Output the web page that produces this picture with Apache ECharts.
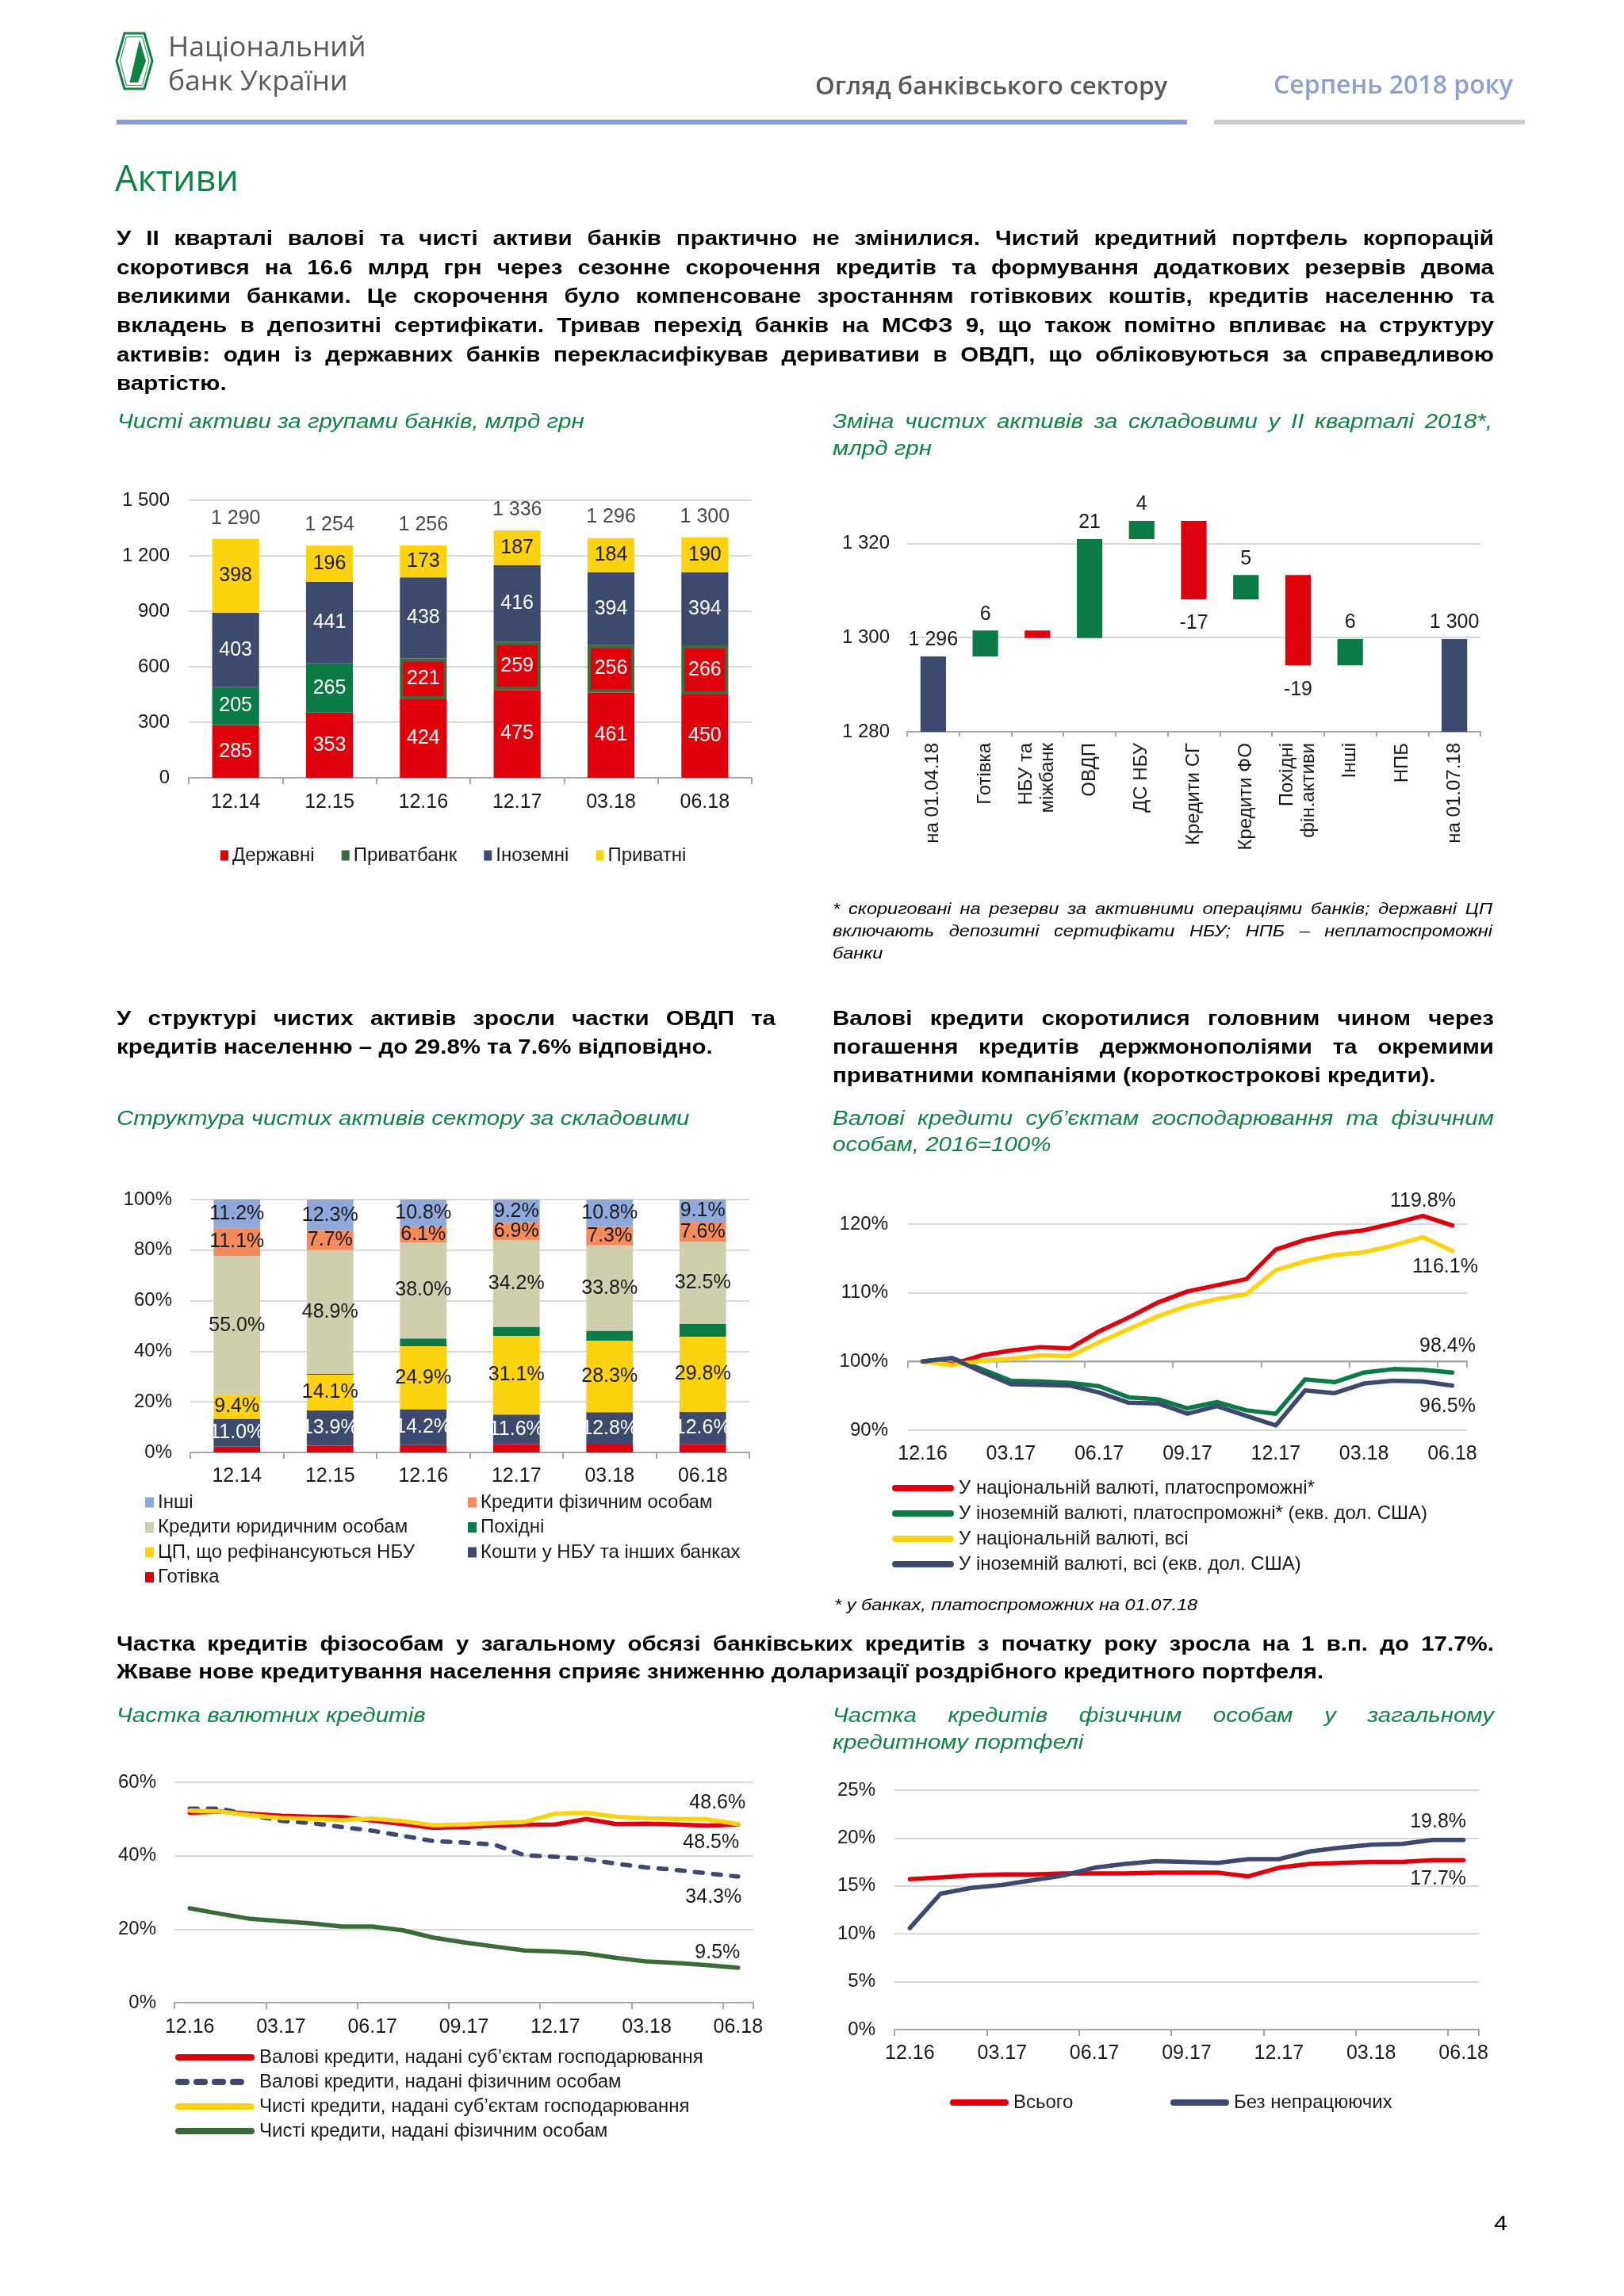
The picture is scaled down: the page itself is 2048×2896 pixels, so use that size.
<!DOCTYPE html>
<html><head><meta charset="utf-8">
<script src="https://cdn.jsdelivr.net/npm/echarts@6.0.0/dist/echarts.min.js"></script>
<style>
html,body{margin:0;padding:0;background:#fff;}
#page{position:relative;width:2048px;height:2896px;overflow:hidden;background:#fff;}
#chart{position:absolute;left:0;top:0;width:2048px;height:2896px;}
.t{position:absolute;white-space:nowrap;transform-origin:0 0;font-family:'Liberation Sans',Arial,sans-serif;color:#000;}
.sx{transform:scaleX(1.18);}
.sf{transform:scaleX(1.12);}
.b{font-weight:bold;}
.i{font-style:italic;}
.g{color:#0F8246;}
.j{white-space:normal;text-align:justify;text-align-last:justify;}
.h{font-family:'Open Sans',sans-serif;}
</style></head>
<body>
<div id="page">
<div id="chart"></div>
<svg style="position:absolute;left:0;top:0" width="260" height="140">
 <polygon points="157,42 182,42 192,77 182,112 157,112 147,77" fill="none" stroke="#0F8246" stroke-width="3"/>
 <polygon points="159.5,46.5 179.5,46.5 188,77 179.5,107.5 159.5,107.5 151.5,77" fill="none" stroke="#0F8246" stroke-width="1"/>
 <polygon points="176,50 184,77 174,104 163.5,104" fill="#0F8246"/>
</svg>
<div style="position:absolute;left:147px;top:151px;width:1350px;height:6px;background:#8B9BD3"></div>
<div style="position:absolute;left:1531px;top:151px;width:392px;height:6px;background:#CCCCCC"></div>
</div>
<script>
// ---------- DATA ----------
// Chart 1: net assets by bank groups, bn UAH
const c1Categories = ['12.14','12.15','12.16','12.17','03.18','06.18'];
const c1State    = [285,353,424,475,461,450];
const c1Privat   = [205,265,221,259,256,266];
const c1PrivatIsState = [false,false,true,true,true,true];
const c1Foreign  = [403,441,438,416,394,394];
const c1Private  = [398,196,173,187,184,190];
const c1Totals   = [1290,1254,1256,1336,1296,1300];

// Chart 2: change of net assets in Q2 2018, bn UAH (waterfall)
const c2Categories = ['на 01.04.18','Готівка','НБУ та\nміжбанк','ОВДП','ДС НБУ','Кредити СГ','Кредити ФО','Похідні\nфін.активи','Інші','НПБ','на 01.07.18'];
const c2Start = 1296.0;
const c2Changes = [5.5,-1.6,21.0,3.9,-16.7,5.2,-19.2,5.6,0];
const c2ShowLabel = [true,false,true,true,true,true,true,true,false];
const c2Ticks = [1280,1300,1320];

// Chart 3: structure of net assets, %
const c3Categories = ['12.14','12.15','12.16','12.17','03.18','06.18'];
const c3Cash        = [2.3,2.7,2.9,3.4,3.1,3.4];
const c3Interbank   = [11.0,13.9,14.2,11.6,12.8,12.6];
const c3Securities  = [9.4,14.1,24.9,31.1,28.3,29.8];
const c3Derivatives = [0,0.4,3.1,3.6,3.9,5.0];
const c3CorpLoans   = [55.0,48.9,38.0,34.2,33.8,32.5];
const c3RetailLoans = [11.1,7.7,6.1,6.9,7.3,7.6];
const c3Other       = [11.2,12.3,10.8,9.2,10.8,9.1];

// Monthly axis for line charts
const months = ['12.16','01.17','02.17','03.17','04.17','05.17','06.17','07.17','08.17','09.17','10.17','11.17','12.17','01.18','02.18','03.18','04.18','05.18','06.18'];

// Chart 4: gross loans, 2016=100%
const c4NatSolvent = [100,99.6,100.9,101.6,102.1,101.9,104.4,106.4,108.6,110.2,111.1,112.0,116.3,117.7,118.6,119.1,120.1,121.2,119.8];
const c4ForSolvent = [100,100.5,98.9,97.2,97.1,96.9,96.4,94.8,94.5,93.2,94.1,92.9,92.4,97.4,97.0,98.4,98.9,98.8,98.4];
const c4NatAll     = [100,99.5,100.1,100.4,100.9,100.8,102.8,104.7,106.6,108.1,109.1,109.8,113.3,114.6,115.5,115.9,116.9,118.1,116.1];
const c4ForAll     = [100,100.5,98.5,96.7,96.6,96.5,95.5,94.0,93.9,92.4,93.5,92.1,90.7,95.8,95.4,96.8,97.2,97.1,96.5];

// Chart 5: share of FX loans, %
const c5GrossCorp   = [51.7,52.0,51.4,50.9,50.6,50.5,49.6,48.6,47.6,47.8,48.2,48.4,48.5,50.0,48.6,48.7,48.5,48.2,48.5];
const c5GrossRetail = [52.8,52.8,51.1,49.5,48.9,47.8,46.8,45.4,44.0,43.6,43.0,40.1,39.7,39.1,37.8,36.8,36.1,35.2,34.3];
const c5NetCorp     = [52.3,52.0,51.0,50.3,50.0,49.7,50.1,49.4,48.3,48.5,48.9,49.2,51.5,51.7,50.6,50.2,50.0,49.9,48.6];
const c5NetRetail   = [25.7,24.2,22.8,22.2,21.6,20.7,20.7,19.7,17.7,16.4,15.3,14.2,13.9,13.4,12.2,11.2,10.8,10.2,9.5];

// Chart 6: share of retail loans in total loan portfolio, %
const c6Total      = [15.7,15.9,16.1,16.2,16.2,16.3,16.3,16.3,16.4,16.4,16.4,16.0,16.9,17.3,17.4,17.5,17.5,17.7,17.7];
const c6Performing = [10.6,14.2,14.8,15.1,15.6,16.1,16.9,17.3,17.6,17.5,17.4,17.8,17.8,18.6,19.0,19.3,19.4,19.8,19.8];

// ---------- TEXT ----------
const page = document.getElementById('page');
function addText(txt, x, cy, size, cls, jw, extra) {
  const d = document.createElement('div');
  d.className = 't ' + cls;
  d.textContent = txt;
  const lh = Math.round(size * 1.3);
  d.style.left = x + 'px';
  d.style.top = (cy - lh / 2) + 'px';
  d.style.fontSize = size + 'px';
  d.style.lineHeight = lh + 'px';
  const sc = cls.indexOf('sx') >= 0 ? 1.18 : (cls.indexOf('sf') >= 0 ? 1.12 : 1);
  if (jw) { d.classList.add('j'); d.style.width = (jw / sc) + 'px'; }
  if (extra) Object.assign(d.style, extra);
  page.appendChild(d);
}
addText('Національний', 212, 57, 35.5, 'h', 0, {color:'#5A5A5A'});
addText('банк України', 212, 100, 35.5, 'h', 0, {color:'#5A5A5A'});
addText('Огляд банківського сектору', 1028, 106, 31.5, 'h', 0, {color:'#595959', fontWeight:'600'});
addText('Серпень 2018 року', 1606, 106, 32, 'h', 0, {color:'#8E9FD2', fontWeight:'600'});
addText('Активи', 145, 223, 45, 'h g');

const para = [
 'У II кварталі валові та чисті активи банків практично не змінилися. Чистий кредитний портфель корпорацій',
 'скоротився на 16.6 млрд грн через сезонне скорочення кредитів та формування додаткових резервів двома',
 'великими банками. Це скорочення було компенсоване зростанням готівкових коштів, кредитів населенню та',
 'вкладень в депозитні сертифікати. Тривав перехід банків на МСФЗ 9, що також помітно впливає на структуру',
 'активів: один із державних банків перекласифікував деривативи в ОВДП, що обліковуються за справедливою',
 'вартістю.'];
const paraY = [300,337,373,410,447,483];
para.forEach((s,i)=>addText(s,147,paraY[i],25,'sx b',i<para.length-1?1737:0));

addText('Чисті активи за групами банків, млрд грн',148,531,25,'sx i g');
addText('Зміна чистих активів за складовими у II кварталі 2018*,',1050,531,25,'sx i g',832);
addText('млрд грн',1050,565,25,'sx i g');
addText('* скориговані на резерви за активними операціями банків; державні ЦП',1050,1145,21,'sf i',832);
addText('включають депозитні сертифікати НБУ; НПБ – неплатоспроможні',1050,1173,21,'sf i',832);
addText('банки',1050,1201,21,'sf i');

addText('У структурі чистих активів зросли частки ОВДП та',147,1284,25,'sx b',831);
addText('кредитів населенню – до 29.8% та 7.6% відповідно.',147,1320,25,'sx b');
addText('Валові кредити скоротилися головним чином через',1050,1284,25,'sx b',834);
addText('погашення кредитів держмонополіями та окремими',1050,1320,25,'sx b',834);
addText('приватними компаніями (короткострокові кредити).',1050,1356,25,'sx b');
addText('Структура чистих активів сектору за складовими',147,1410,25,'sx i g');
addText('Валові кредити суб’єктам господарювання та фізичним',1050,1410,25,'sx i g',834);
addText('особам, 2016=100%',1050,1443,25,'sx i g');
addText('* у банках, платоспроможних на 01.07.18',1052,2023,21,'sf i');

addText('Частка кредитів фізособам у загальному обсязі банківських кредитів з початку року зросла на 1 в.п. до 17.7%.',147,2073,25,'sx b',1737);
addText('Жваве нове кредитування населення сприяє зниженню доларизації роздрібного кредитного портфеля.',147,2108,25,'sx b');
addText('Частка валютних кредитів',147,2163,25,'sx i g');
addText('Частка кредитів фізичним особам у загальному',1050,2163,25,'sx i g',834);
addText('кредитному портфелі',1050,2197,25,'sx i g');
addText('4',1884,2804,26,'sx');

// ---------- CHARTS ----------
const FONT = 'Liberation Sans';
const TXT = '#1a1a1a';
const RED = '#E0000B', GREEN = '#0B7A47', NAVY = '#3D4A6E', YELLOW = '#FDD20E';
const thousands = v => String(v).replace(/\B(?=(\d{3})+(?!\d))/g, ' ');
const axLine = {show:true, lineStyle:{color:'#A6A6A6', width:2}};
const axTick = {show:true, length:8, lineStyle:{color:'#A6A6A6', width:2}};
const split = {show:true, lineStyle:{color:'#D9D9D9', width:2}};
const lab = (extra) => Object.assign({fontFamily:FONT, fontSize:24, color:TXT}, extra||{});

const grids = [
  {left:238, top:631, width:710, height:350},
  {left:1144, top:626, width:723, height:297},
  {left:240, top:1513, width:705, height:319},
  {left:1145, top:1544, width:705, height:260},
  {left:220, top:2248, width:730, height:278},
  {left:1128, top:2258, width:737, height:302}
].map(g => Object.assign({containLabel:false, outerBoundsMode:'none'}, g));

const xAxes = [
  {gridIndex:0, type:'category', data:c1Categories, axisLine:axLine, axisTick:axTick, axisLabel:lab({margin:19, fontSize:25})},
  {gridIndex:1, type:'category', data:c2Categories, axisLine:axLine, axisTick:Object.assign({}, axTick, {length:6}),
   axisLabel:lab({rotate:90, margin:14, interval:0, lineHeight:27})},
  {gridIndex:2, type:'category', data:c3Categories, axisLine:axLine, axisTick:axTick, axisLabel:lab({margin:18, fontSize:25})},
  {gridIndex:3, type:'category', data:months, axisLine:{show:false}, axisTick:{show:false}, axisLabel:lab({margin:18, interval:2, fontSize:25})},
  {gridIndex:3, type:'category', data:months, position:'bottom', offset:-86.8, axisLine:axLine,
   axisTick:Object.assign({interval:2}, axTick), axisLabel:{show:false}},
  {gridIndex:4, type:'category', data:months, axisLine:axLine, axisTick:Object.assign({interval:2}, axTick), axisLabel:lab({margin:19, interval:2, fontSize:25})},
  {gridIndex:5, type:'category', data:months, axisLine:axLine, axisTick:Object.assign({interval:2}, axTick), axisLabel:lab({margin:18, interval:2, fontSize:25})}
];
const pct = v => v + '%';
const yAxes = [
  {gridIndex:0, type:'value', min:0, max:1500, interval:300, axisLine:{show:false}, axisTick:{show:false}, splitLine:split, axisLabel:lab({margin:24, formatter:thousands})},
  {gridIndex:1, type:'value', min:1280, max:1330, interval:20, axisLine:{show:false}, axisTick:{show:false},
   splitLine:Object.assign({showMaxLine:false}, split), axisLabel:lab({margin:22, showMaxLabel:false, formatter:v => c2Ticks.indexOf(v) >= 0 ? thousands(v) : ''})},
  {gridIndex:2, type:'value', min:0, max:100, interval:20, axisLine:{show:false}, axisTick:{show:false}, splitLine:split, axisLabel:lab({margin:23, formatter:pct})},
  {gridIndex:3, type:'value', min:90, max:120, interval:10, axisLine:{show:false}, axisTick:{show:false}, splitLine:split, axisLabel:lab({margin:25, formatter:pct})},
  {gridIndex:4, type:'value', min:0, max:60, interval:20, axisLine:{show:false}, axisTick:{show:false}, splitLine:split, axisLabel:lab({margin:23, formatter:pct})},
  {gridIndex:5, type:'value', min:0, max:25, interval:5, axisLine:{show:false}, axisTick:{show:false}, splitLine:split, axisLabel:lab({margin:24, formatter:pct})}
];

// chart 1 series
const inLab = (color, fmt) => ({show:true, position:'inside', color, fontFamily:FONT, fontSize:25, formatter:fmt});
const series = [];
series.push({name:'Державні', type:'bar', xAxisIndex:0, yAxisIndex:0, stack:'c1', barWidth:'50%', data:c1State, itemStyle:{color:RED}, label:inLab('#fff')});
series.push({name:'Приватбанк', type:'bar', xAxisIndex:0, yAxisIndex:0, stack:'c1', barWidth:'50%',
  data:c1Privat.map((v,i) => c1PrivatIsState[i] ? {value:v, itemStyle:{color:RED, borderColor:'#3C6B3F', borderWidth:4}} : v),
  itemStyle:{color:GREEN}, label:inLab('#fff')});
series.push({name:'Іноземні', type:'bar', xAxisIndex:0, yAxisIndex:0, stack:'c1', barWidth:'50%', data:c1Foreign, itemStyle:{color:NAVY}, label:inLab('#fff')});
series.push({name:'Приватні', type:'bar', xAxisIndex:0, yAxisIndex:0, stack:'c1', barWidth:'50%', data:c1Private, itemStyle:{color:YELLOW}, label:inLab(TXT)});
series.push({name:'Разом', type:'scatter', xAxisIndex:0, yAxisIndex:0, data:c1Totals, symbolSize:1, itemStyle:{color:'rgba(0,0,0,0)'},
  label:{show:true, position:'top', distance:13, color:TXT, fontFamily:FONT, fontSize:25, formatter:p => thousands(p.value)}});

// chart 2 waterfall (derived from start + changes)
const wfBase = [0], wfTotal = [c2Start], wfUp = [0], wfDown = [0];
let run = c2Start;
c2Changes.forEach((d,i) => {
  const next = run + d;
  wfBase.push(Math.min(run, next));
  wfTotal.push(0);
  wfUp.push(d > 0 ? d : 0);
  wfDown.push(d < 0 ? -d : 0);
  run = next;
});
wfBase.push(0); wfTotal.push(run); wfUp.push(0); wfDown.push(0);
const wfItem = (v, i, show) => ({value:v, label:{show:show && v > 0}});
series.push({name:'wfBase', type:'bar', xAxisIndex:1, yAxisIndex:1, stack:'wf', barWidth:'49%', data:wfBase, itemStyle:{color:'rgba(0,0,0,0)'}, silent:true});
series.push({name:'wfTotal', type:'bar', xAxisIndex:1, yAxisIndex:1, stack:'wf', barWidth:'49%',
  data:wfTotal.map((v,i) => wfItem(v,i,true)), itemStyle:{color:NAVY},
  label:{position:'top', distance:8, color:TXT, fontFamily:FONT, fontSize:25, formatter:p => thousands(Math.round(p.value))}});
series.push({name:'wfUp', type:'bar', xAxisIndex:1, yAxisIndex:1, stack:'wf', barWidth:'49%',
  data:wfUp.map((v,i) => wfItem(v,i,i>0 && i<=c2Changes.length && c2ShowLabel[i-1])), itemStyle:{color:GREEN},
  label:{position:'top', distance:8, color:TXT, fontFamily:FONT, fontSize:25, formatter:p => String(Math.round(p.value))}});
series.push({name:'wfDown', type:'bar', xAxisIndex:1, yAxisIndex:1, stack:'wf', barWidth:'49%',
  data:wfDown.map((v,i) => wfItem(v,i,i>0 && i<=c2Changes.length && c2ShowLabel[i-1])), itemStyle:{color:RED},
  label:{position:'bottom', distance:18, color:TXT, fontFamily:FONT, fontSize:25, formatter:p => '-' + Math.round(p.value)}});

// chart 3
const p1 = p => p.value.toFixed(1) + '%';
const c3 = [
  ['Готівка', c3Cash, RED, null],
  ['Кошти у НБУ та інших банках', c3Interbank, NAVY, '#fff'],
  ['ЦП, що рефінансуються НБУ', c3Securities, YELLOW, TXT],
  ['Похідні', c3Derivatives, GREEN, null],
  ['Кредити юридичним особам', c3CorpLoans, '#CFCFAE', TXT],
  ['Кредити фізичним особам', c3RetailLoans, '#F58B5A', TXT],
  ['Інші', c3Other, '#8EA9DA', TXT]
];
c3.forEach(([name, data, color, lc]) => {
  series.push({name, type:'bar', xAxisIndex:2, yAxisIndex:2, stack:'c3', barWidth:'50%', data, itemStyle:{color},
    label: lc ? inLab(lc, p1) : {show:false}});
});

// line helper
function lineSeries(name, data, color, xi, yi, endLabel, extraLine) {
  const last = data.length - 1;
  return {name, type:'line', xAxisIndex:xi, yAxisIndex:yi, clip:false, symbol:'circle', symbolSize:1, showSymbol:true,
    itemStyle:{color}, lineStyle:Object.assign({color, width:5.5, cap:'round', join:'round'}, extraLine||{}),
    data:data.map((v,i) => i === last ? {value:v, label:Object.assign({show:true, color:TXT, fontFamily:FONT, fontSize:25,
      formatter:p => p.value.toFixed(1) + '%'}, endLabel)} : v)};
}
series.push(lineSeries('У національній валюті, платоспроможні*', c4NatSolvent, RED, 3, 3, {position:'top', distance:18, offset:[-37,0]}));
series.push(lineSeries('У іноземній валюті, платоспроможні* (екв. дол. США)', c4ForSolvent, GREEN, 3, 3, {position:'top', distance:20, offset:[-6,0]}));
series.push(lineSeries('У національній валюті, всі', c4NatAll, YELLOW, 3, 3, {position:'bottom', distance:7, offset:[-9,0]}));
series.push(lineSeries('У іноземній валюті, всі (екв. дол. США)', c4ForAll, NAVY, 3, 3, {position:'bottom', distance:13, offset:[-6,0]}));

series.push(lineSeries('Валові кредити, надані суб’єктам господарювання', c5GrossCorp, RED, 5, 4, {position:'bottom', distance:10, offset:[-34,0]}));
series.push(lineSeries('Валові кредити, надані фізичним особам', c5GrossRetail, NAVY, 5, 4, {position:'bottom', distance:13, offset:[-31,0]}, {type:[10,13]}));
series.push(lineSeries('Чисті кредити, надані суб’єктам господарювання', c5NetCorp, YELLOW, 5, 4, {position:'top', distance:14, offset:[-26,0]}));
series.push(lineSeries('Чисті кредити, надані фізичним особам', c5NetRetail, '#3A6B3A', 5, 4, {position:'top', distance:6, offset:[-26,0]}));

series.push(lineSeries('Всього', c6Total, RED, 6, 5, {position:'bottom', distance:11, offset:[-32,0]}));
series.push(lineSeries('Без непрацюючих', c6Performing, NAVY, 6, 5, {position:'top', distance:10, offset:[-32,0]}));

const legTxt = {fontFamily:FONT, fontSize:24, color:TXT};
const legTxtLine = {fontFamily:FONT, fontSize:24, color:TXT, padding:[0,0,0,5]};
const lineLeg = {itemStyle:{opacity:0}, lineStyle:{width:8, cap:'round'}, textStyle:legTxtLine};
const legends = [
  {left:278, top:1067, itemWidth:10, itemHeight:13, itemGap:34, icon:'rect',
   data:[{name:'Державні'},{name:'Приватбанк', itemStyle:{color:'#3C6B3F', borderWidth:0}},{name:'Іноземні'},{name:'Приватні'}]},
  {left:183, top:1883, orient:'vertical', itemWidth:11, itemHeight:13, itemGap:7.5, icon:'rect',
   data:['Інші','Кредити юридичним особам','ЦП, що рефінансуються НБУ','Готівка']},
  {left:590, top:1883, orient:'vertical', itemWidth:11, itemHeight:13, itemGap:7.5, icon:'rect',
   data:['Кредити фізичним особам','Похідні','Кошти у НБУ та інших банках']},
  Object.assign({left:1125, top:1865, orient:'vertical', itemWidth:70, itemHeight:14, itemGap:8,
   data:['У національній валюті, платоспроможні*','У іноземній валюті, платоспроможні* (екв. дол. США)','У національній валюті, всі','У іноземній валюті, всі (екв. дол. США)']}, lineLeg),
  Object.assign({left:221, top:2583, orient:'vertical', itemWidth:92, itemHeight:14, itemGap:7,
   data:['Валові кредити, надані суб’єктам господарювання','Валові кредити, надані фізичним особам','Чисті кредити, надані суб’єктам господарювання','Чисті кредити, надані фізичним особам']}, lineLeg),
  Object.assign({left:1198, top:2640, itemWidth:66, itemHeight:14, data:['Всього']}, lineLeg),
  Object.assign({left:1476, top:2640, itemWidth:66, itemHeight:14, data:['Без непрацюючих']}, lineLeg)
].map(l => Object.assign({selectedMode:false, textStyle:legTxt, padding:0}, l));

const chart = echarts.init(document.getElementById('chart'), null, {renderer:'canvas', width:2048, height:2896});
chart.setOption({
  animation:false,
  backgroundColor:'rgba(0,0,0,0)',
  textStyle:{fontFamily:FONT},
  grid:grids, xAxis:xAxes, yAxis:yAxes, legend:legends, series
});
</script>
</body></html>
